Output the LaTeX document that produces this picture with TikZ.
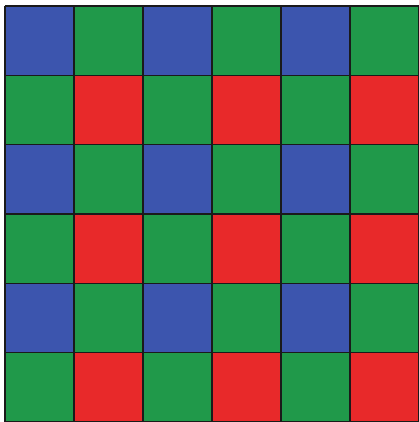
\documentclass[tikz,border=0pt]{standalone}
\usepackage{tikz}
\definecolor{bleu}{HTML}{3C55AE}
\definecolor{vert}{HTML}{20994A}
\definecolor{rouge}{HTML}{E8292A}
\definecolor{gris}{HTML}{1A1A1A}

\begin{document}
\begin{tikzpicture}[x=1.38cm,y=-1.3867cm]
  \useasboundingbox (-0.072,-0.087) rectangle (6,6);
  \fill[white] (-0.072,-0.087) rectangle (6,6);
  % one 2x2 block = B G / G R
  \foreach \r in {0,2,4} \foreach \c in {0,2,4} {
    \fill[bleu] (\c,\r) rectangle ++(1,1);
    \fill[vert] (\c+1,\r) rectangle ++(1,1);
    \fill[vert] (\c,\r+1) rectangle ++(1,1);
    \fill[rouge] (\c+1,\r+1) rectangle ++(1,1);
  }
  \foreach \t in {0,...,6} {
    \draw[gris,line width=0.9pt] (\t,0) -- (\t,6);
    \draw[gris,line width=0.9pt] (0,\t) -- (6,\t);
  }
\end{tikzpicture}
\end{document}
